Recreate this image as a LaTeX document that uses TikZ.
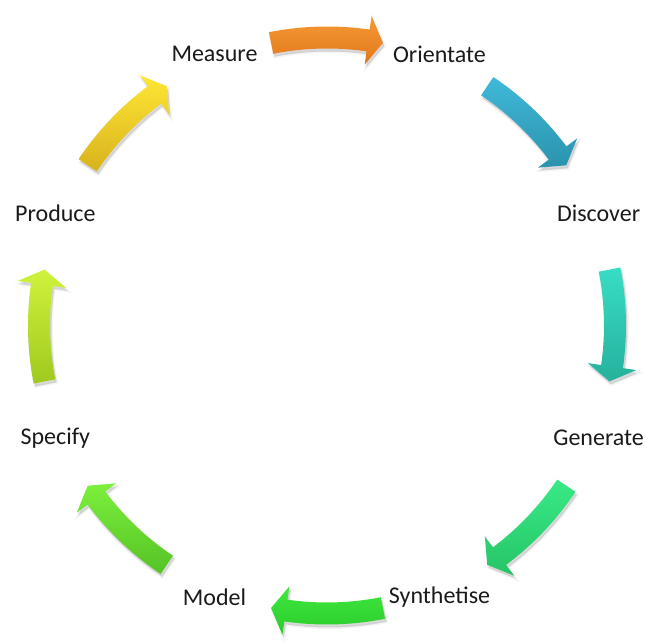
\documentclass[tikz,border=0pt]{standalone}
\usepackage{fontspec}
\setmainfont{Carlito}
\definecolor{orT}{HTML}{F59A34}\definecolor{orB}{HTML}{E2771C}
\definecolor{blT}{HTML}{40B8D9}\definecolor{blB}{HTML}{2A93AC}
\definecolor{teT}{HTML}{38DDC4}\definecolor{teB}{HTML}{26B19B}
\definecolor{gnT}{HTML}{38EA86}\definecolor{gnB}{HTML}{27C467}
\definecolor{brT}{HTML}{40E840}\definecolor{brB}{HTML}{2ACB2A}
\definecolor{mgT}{HTML}{7CF03C}\definecolor{mgB}{HTML}{55C226}
\definecolor{liT}{HTML}{CFF33C}\definecolor{liB}{HTML}{A0C91F}
\definecolor{yeT}{HTML}{FFE635}\definecolor{yeB}{HTML}{D8B21D}
\definecolor{txt}{HTML}{1A1A1A}
\tikzset{
  lbl/.style={text=txt, font=\fontsize{24bp}{28bp}\selectfont, inner sep=0pt},
  shadowA/.style={fill=black, fill opacity=0.07, draw=black, draw opacity=0.04, line width=3bp},
  shadowB/.style={fill=black, fill opacity=0.08},
}
\begin{document}
\begin{tikzpicture}
\useasboundingbox (-327bp,-316.5bp) rectangle (318bp,325.5bp);
\foreach \a/\ct/\cb in {90/orT/orB, 45/blT/blB, 0/teT/teB, -45/gnT/gnB, -90/brT/brB, -135/mgT/mgB, -180/liT/liB, -225/yeT/yeB}{
  \pgfmathsetmacro\aT{\a+11.2}
  \pgfmathsetmacro\aP{\a-11.2}
  \pgfmathsetmacro\aH{\a-8.2}
  \def\arrowpath{(\aT:299bp) arc[start angle=\aT,end angle=\aH,radius=299bp] -- (\aH:312.5bp) -- (\aP:288bp) -- (\aH:263.5bp) -- (\aH:277bp) arc[start angle=\aH,end angle=\aT,radius=277bp] -- cycle}
  \begin{scope}[shift={(1.5bp,-3bp)}]
    \path[shadowA] \arrowpath;
    \path[shadowB] \arrowpath;
  \end{scope}
  \path[top color=\ct, bottom color=\cb] \arrowpath;
}
\node[lbl] (m)  at (112.5:294bp) {Measure};
\node[lbl] (o)  at (67.5:294bp)  {Orientate};
\node[lbl] (d)  at (22.5:294bp)  {Discover};
\node[lbl] (g)  at (-22.5:294bp) {Generate};
\node[lbl] (s)  at (-67.5:294bp) {Synthetise};
\node[lbl] (mo) at (-112.5:294bp) {Model};
\node[lbl] (sp) at (-157.5:294bp) {Specify};
\node[lbl] (p)  at (157.5:294bp) {Produce};
\end{tikzpicture}
\end{document}
